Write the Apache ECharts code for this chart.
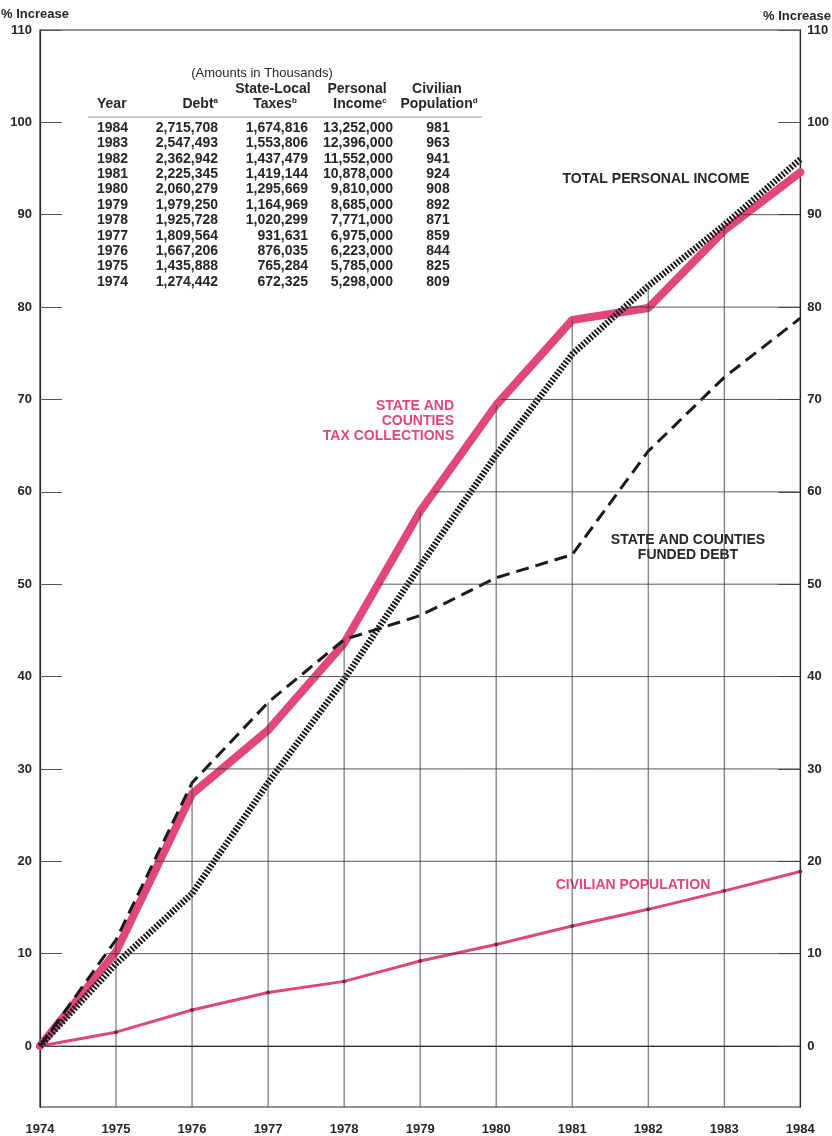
<!DOCTYPE html>
<html><head><meta charset="utf-8">
<script src="https://cdn.jsdelivr.net/npm/echarts@6/dist/echarts.min.js"></script>
<style>html,body{margin:0;padding:0;background:#fff}#c{width:832px;height:1136px}</style>
</head><body><div id="c"></div>
<script>
// ---- chart data (percent increase since 1974) ----
const years = [1974, 1975, 1976, 1977, 1978, 1979, 1980, 1981, 1982, 1983, 1984];
const taxCollections     = [0, 10.2, 27.3, 34.2, 43.6, 57.9, 69.4, 78.6, 79.9, 88.3, 94.6];
const fundedDebt         = [0, 11.5, 28.5, 37.2, 44.0, 46.6, 50.7, 53.2, 64.4, 72.4, 78.8];
const personalIncome     = [0, 8.9, 16.5, 28.5, 39.7, 52.0, 64.0, 74.9, 82.3, 88.9, 96.0];
const civilianPopulation = [0, 1.5, 3.9, 5.8, 7.0, 9.2, 11.0, 13.0, 14.8, 16.8, 18.9];
const yTicks = [0, 10, 20, 30, 40, 50, 60, 70, 80, 90, 100, 110];

// ---- table data (amounts in thousands) ----
const tableYears      = [1984, 1983, 1982, 1981, 1980, 1979, 1978, 1977, 1976, 1975, 1974];
const tableDebt       = [2715708, 2547493, 2362942, 2225345, 2060279, 1979250, 1925728, 1809564, 1667206, 1435888, 1274442];
const tableTaxes      = [1674816, 1553806, 1437479, 1419144, 1295669, 1164969, 1020299, 931631, 876035, 765284, 672325];
const tableIncome     = [13252000, 12396000, 11552000, 10878000, 9810000, 8685000, 7771000, 6975000, 6223000, 5785000, 5298000];
const tablePopulation = [981, 963, 941, 924, 908, 892, 871, 859, 844, 825, 809];

const PINK = '#e1467d';
const INK = '#262626';
const FONT = '"Liberation Sans", Arial, sans-serif';
const X_MIN = 1974, X_MAX = 1984, Y_MIN = -6.6, Y_MAX = 110;

const allSeries = [taxCollections, fundedDebt, personalIncome, civilianPopulation];
const envelopeTop = years.map((y, i) => Math.max(...allSeries.map(s => s[i])));
function firstCrossing(level) {
  let best = Infinity;
  for (const s of allSeries) {
    for (let i = 0; i < s.length - 1; i++) {
      if (s[i] <= level && s[i + 1] >= level && s[i + 1] > s[i]) {
        const t = (level - s[i]) / (s[i + 1] - s[i]);
        best = Math.min(best, years[i] + t * (years[i + 1] - years[i]));
        break;
      }
    }
  }
  return best;
}
const gridData = [];
years.forEach((y, i) => { if (y > X_MIN && y < X_MAX) gridData.push([y, envelopeTop[i], 0]); });
yTicks.forEach(l => { const c = firstCrossing(l); if (c < X_MAX) gridData.push([c, l, 1]); });

const pairs = arr => years.map((y, i) => [y, arr[i]]);
const fmt = n => n.toLocaleString('en-US');

// ---- table graphics ----
const gfx = [];
function txt(x, y, text, opt) {
  gfx.push({ type: 'text', x: x, y: y, silent: true, style: Object.assign({
    text: text, fill: INK, font: 'bold 14px ' + FONT, align: 'left', verticalAlign: 'middle'
  }, opt || {}) });
}
const rowY0 = 128, rowH = 15.4;
txt(262, 73, '(Amounts in Thousands)', { font: '13px ' + FONT, align: 'center' });
txt(273, 89, 'State-Local', { align: 'center' });
txt(357, 89, 'Personal', { align: 'center' });
txt(437, 89, 'Civilian', { align: 'center' });
txt(97, 104, 'Year');
const supRich = { m: { font: 'bold 14px ' + FONT, fill: INK }, s: { font: 'bold 8px ' + FONT, fill: INK, verticalAlign: 'top' } };
txt(218, 104, '{m|Debt}{s|a}', { align: 'right', rich: supRich });
txt(275, 104, '{m|Taxes}{s|b}', { align: 'center', rich: supRich });
txt(360, 104, '{m|Income}{s|c}', { align: 'center', rich: supRich });
txt(439, 104, '{m|Population}{s|d}', { align: 'center', rich: supRich });
gfx.push({ type: 'line', silent: true, shape: { x1: 88, y1: 117, x2: 482, y2: 117 }, style: { stroke: '#9a9a9a', lineWidth: 1 } });
tableYears.forEach((yr, i) => {
  const yy = rowY0 + i * rowH;
  txt(97, yy, String(yr));
  txt(218, yy, fmt(tableDebt[i]), { align: 'right' });
  txt(308, yy, fmt(tableTaxes[i]), { align: 'right' });
  txt(393, yy, fmt(tableIncome[i]), { align: 'right' });
  txt(438, yy, fmt(tablePopulation[i]), { align: 'center' });
});
// axis titles
txt(1, 14, '% Increase', { font: 'bold 13px ' + FONT });
txt(831, 16, '% Increase', { font: 'bold 13px ' + FONT, align: 'right' });
// series labels
const lab = 'bold 14px ' + FONT;
txt(656, 179, 'TOTAL PERSONAL INCOME', { font: lab, align: 'center' });
txt(454, 406, 'STATE AND', { font: lab, align: 'right', fill: PINK });
txt(454, 421, 'COUNTIES', { font: lab, align: 'right', fill: PINK });
txt(454, 436, 'TAX COLLECTIONS', { font: lab, align: 'right', fill: PINK });
txt(688, 540, 'STATE AND COUNTIES', { font: lab, align: 'center' });
txt(688, 555, 'FUNDED DEBT', { font: lab, align: 'center' });
txt(633, 885, 'CIVILIAN POPULATION', { font: lab, align: 'center', fill: PINK });

const yAxisCommon = {
  type: 'value', min: Y_MIN, max: Y_MAX,
  axisLine: { show: true, lineStyle: { color: INK, width: 1.2 } },
  axisTick: { show: true, inside: true, length: 22, customValues: yTicks, lineStyle: { color: '#555', width: 1 } },
  axisLabel: { customValues: yTicks, color: INK, fontFamily: FONT, fontWeight: 'bold', fontSize: 13 },
  splitLine: { show: false }
};

const chart = echarts.init(document.getElementById('c'));
chart.setOption({
  animation: false,
  backgroundColor: '#fff',
  grid: { left: 40, right: 30, top: 30, bottom: 28, show: true, borderColor: INK, borderWidth: 1.2, backgroundColor: 'transparent' },
  xAxis: {
    type: 'value', min: X_MIN, max: X_MAX, interval: 1,
    axisLine: { show: true, lineStyle: { color: INK, width: 1.2 } },
    axisTick: { show: false },
    splitLine: { show: false },
    axisLabel: { margin: 16, color: INK, fontFamily: FONT, fontWeight: 'bold', fontSize: 13, formatter: v => String(v) }
  },
  yAxis: [
    Object.assign({}, yAxisCommon, { position: 'left', axisLabel: Object.assign({}, yAxisCommon.axisLabel, { margin: 8 }) }),
    Object.assign({}, yAxisCommon, { position: 'right', axisLabel: Object.assign({}, yAxisCommon.axisLabel, { margin: 7 }) })
  ],
  series: [
    {
      name: 'Civilian Population', type: 'line', z: 3, data: pairs(civilianPopulation),
      lineStyle: { color: PINK, width: 3 }, symbol: 'circle', symbolSize: 4,
      itemStyle: { color: '#7a2a4a' }
    },
    {
      name: 'State and Counties Tax Collections', type: 'line', z: 4, data: pairs(taxCollections),
      lineStyle: { color: PINK, width: 8, join: 'round', cap: 'round' }, symbol: 'none'
    },
    {
      name: 'State and Counties Funded Debt', type: 'line', z: 5, data: pairs(fundedDebt),
      lineStyle: { color: '#1a1a1a', width: 3, type: [13, 7] }, symbol: 'none'
    },
    {
      name: 'Total Personal Income', type: 'line', z: 6, data: pairs(personalIncome),
      lineStyle: { color: '#1a1a1a', width: 6.5, type: [2, 1.6] }, symbol: 'none'
    },
    {
      name: 'grid', type: 'custom', z: 7, silent: true, data: gridData,
      encode: { x: 0, y: 1 },
      renderItem: function (params, api) {
        const kind = api.value(2);
        let p1, p2;
        if (kind === 0) {
          p1 = api.coord([api.value(0), api.value(1)]);
          p2 = api.coord([api.value(0), Y_MIN]);
        } else {
          p1 = api.coord([api.value(0), api.value(1)]);
          p2 = api.coord([X_MAX, api.value(1)]);
        }
        return { type: 'line', shape: { x1: p1[0], y1: p1[1], x2: p2[0], y2: p2[1] },
          style: { stroke: '#3c3c3c', lineWidth: 1, opacity: 0.85 } };
      }
    }
  ],
  graphic: { elements: gfx }
});
</script>
</body></html>
